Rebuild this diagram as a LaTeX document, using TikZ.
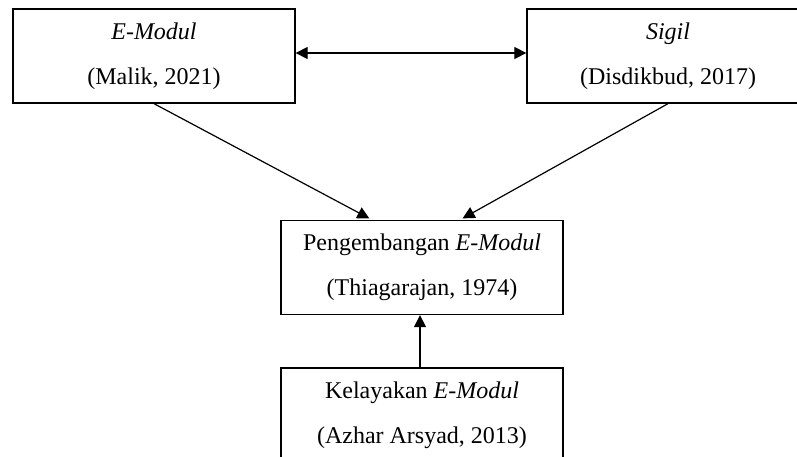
\documentclass[tikz,border=0pt]{standalone}
\usepackage{fontspec}
\setmainfont{Liberation Serif}
\usetikzlibrary{arrows.meta}

\tikzset{
  box/.style={draw,line width=0.65pt,minimum width=141pt,minimum height=47pt,
    align=center,font=\fontsize{12pt}{22.5pt}\selectfont},
  arr/.style={line width=0.6pt,-{Triangle[length=6pt,width=6pt]}}
}

\begin{document}
\begin{tikzpicture}[x=0.5pt,y=-0.5pt]
\clip (0,0) rectangle (797,456); %page

\node[box] (emodul) at (154,56) {\textit{E-Modul}\\(Malik, 2021)};
\node[box] (sigil) at (668,56) {\textit{Sigil}\\(Disdikbud, 2017)};
\node[box] (pengembangan) at (422,267.5) {Pengembangan \textit{E-Modul}\\(Thiagarajan, 1974)};
\node[box] (kelayakan) at (422,415) {Kelayakan \textit{E-Modul}\\(Azhar Arsyad, 2013)};

\draw[arr,{Triangle[length=6pt,width=6pt]}-{Triangle[length=6pt,width=6pt]}] ([yshift=1.5pt]emodul.east) -- ([yshift=1.5pt]sigil.west);

\draw[arr,shorten >=1.5pt] (emodul.south) -- ([xshift=-25pt]pengembangan.north);
\draw[arr,shorten >=1.5pt] (sigil.south) -- ([xshift=19pt]pengembangan.north);
\draw[arr] ([xshift=-1pt]kelayakan.north) -- ([xshift=-1pt]pengembangan.south);

\end{tikzpicture}
\end{document}
